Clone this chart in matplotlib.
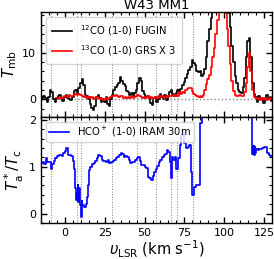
import numpy as np
import matplotlib
matplotlib.use("Agg")
import matplotlib.pyplot as plt
from matplotlib.ticker import MultipleLocator

# ---------------- data ----------------
co12_v0 = -15  # first channel, 1 km/s spacing
co12_t = [0.5, 0.0, 0.8, 0.2, -0.5, 0.5, 2.0, 1.5, 0.0, -0.5,
          0.3, 0.8, 1.0, 0.3, -0.3, 0.5, 1.0, 0.2, 0.0, -0.2,
          0.5, 1.8, 2.0, 1.2, 2.5, 3.5, 4.4, 3.0, 1.0, 0.8,
          0.0, -1.0, -1.8, -2.3, -1.5, 0.5, 1.0, 0.3, -0.5, 0.0,
          -0.5, 0.5, -1.0, -1.5, 0.0, 1.0, 2.0, 2.6, 3.0, 3.5,
          4.8, 4.0, 3.2, 2.8, 1.8, 1.5, 1.0, 1.4, 0.8, 1.3,
          2.0, 3.5, 4.6, 4.0, 1.8, 1.2, 0.5, 0.8, 0.2, -0.8,
          -1.3, 0.2, 0.5, -0.5, 0.0, 1.2, 0.5, 0.0, 0.9, -0.1,
          0.8, 1.6, 2.0, 1.2, 0.8, 1.4, 1.9, 1.5, 2.2, 3.0,
          3.6, 4.5, 5.5, 6.3, 7.0, 8.4, 7.8, 7.3, 6.0, 5.8,
          6.0, 4.9, 5.5, 6.5, 9.0, 12.5, 15.0, 17.5, 20.0, 23.0,
          25.0, 26.0, 27.0, 27.0, 26.0, 25.0, 23.0, 20.5, 18.5, 15.5,
          11.5, 8.0, 5.0, 3.5, 2.0, 1.5, 1.3, 2.6, 4.5, 9.0,
          12.5, 13.2, 9.0, 3.5, 1.2, 0.5, -0.5, 0.8, 0.0, 0.3,
          -0.8, 0.2, 1.0, 0.0, 0.5, -0.3]

co13_v0 = -5  # first channel, 1 km/s spacing (already x3)
co13_t = [0.2, 0.0, 0.3, 0.5, 0.2, 0.6, 0.8, 0.5, 0.9, 0.7,
          0.6, 1.0, 1.2, 0.9, 1.1, 1.0, 0.8, 0.5, 0.6, 0.3,
          0.5, 0.2, 0.4, 0.1, 0.3, 0.5, 0.2, 0.0, 0.2, 0.1,
          -0.1, 0.2, 0.0, 0.3, 0.5, 0.8, 0.6, 0.9, 0.7, 0.5,
          0.8, 0.6, 0.3, 0.5, 0.2, 0.4, 0.3, 0.6, 0.2, 0.5,
          0.8, 1.0, 0.7, 0.4, 0.2, 0.5, 0.3, 0.6, 0.2, 0.4,
          0.1, 0.3, 0.5, 0.2, 0.6, 0.4, 0.7, 0.5, 0.3, 0.6,
          0.4, 0.8, 0.6, 0.9, 0.7, 1.0, 0.8, 1.5, 1.2, 1.6,
          1.4, 1.9, 2.2, 2.5, 2.4, 1.8, 1.2, 1.0, 0.7, 0.5,
          0.6, 0.5, 1.0, 2.0, 3.2, 4.3, 5.3, 7.0, 9.0, 11.0,
          14.0, 17.0, 19.5, 21.0, 22.0, 21.0, 18.5, 15.0, 11.5, 7.5,
          4.0, 1.8, 1.0, 0.8, 0.6, 0.9, 0.7, 0.8, 1.5, 3.5,
          7.0, 9.9, 6.0, 2.0, 0.5, 0.2, 0.0, 0.3, -0.1, 0.2,
          0.0, 0.3, -0.2, 0.1, 0.2, 0.0]

hco_v = [-15.5, -14, -13, -12, -11, -10, -9, -8, -7, -6,
         -5, -4, -3, -2, -1, 0, 1, 2, 3, 4,
         5, 6, 6.5, 7, 7.5, 8, 8.5, 9, 9.5, 10,
         10.5, 11, 12, 13, 14, 14.5, 15, 16, 17, 18,
         19, 20, 21, 22, 23, 24, 25, 26, 27, 28,
         29, 30, 31, 32, 33, 34, 35, 36, 37, 38,
         39, 40, 41, 42, 43, 44, 45, 46, 47, 48,
         49, 50, 51, 52, 53, 54, 55, 56, 57, 58,
         59, 60, 61, 62, 63, 64, 65, 66, 66.5, 67,
         68, 69, 70, 71, 72, 73, 74, 75, 76, 77,
         78, 79, 79.5, 81, 82, 84, 84.5, 85, 86, 117.4,
         117.7, 118, 118.3, 118.6, 118.9, 119.2, 119.5, 120, 121, 122,
         123, 124, 125, 126, 127, 128, 129, 130.5]
hco_r = [1.07, 1.10, 1.05, 1.18, 1.10, 1.10, 0.95, 1.05, 1.12, 1.18,
         1.22, 1.24, 1.26, 1.22, 1.30, 1.33, 1.40, 1.26, 1.24, 1.22,
         1.12, 0.95, 0.55, 0.29, 0.45, 0.62, 0.25, 0.55, 0.18, -0.07,
         0.26, 0.18, 0.15, 0.20, 0.35, 0.60, 0.93, 1.00, 1.05, 1.08,
         1.12, 1.18, 1.25, 1.22, 1.14, 1.12, 1.13, 1.10, 1.14, 1.08,
         1.10, 1.12, 1.14, 1.18, 1.20, 1.25, 1.30, 1.27, 1.21, 1.22,
         1.20, 1.15, 1.07, 1.10, 1.10, 1.14, 1.18, 1.20, 1.12, 1.03,
         1.03, 1.00, 0.98, 0.78, 0.76, 0.71, 0.80, 0.89, 0.96, 1.02,
         1.10, 1.15, 1.21, 1.25, 1.28, 1.36, 1.32, 1.10, 0.75, 1.21,
         1.15, 1.20, 0.96, 1.18, 1.46, 1.68, 1.75, 1.50, 1.40, 1.42,
         1.46, 0.89, 0.40, 0.57, 0.60, 0.62, 1.18, 1.93, 2.5, 1.46,
         1.28, 1.45, 1.27, 1.44, 1.26, 1.42, 1.30, 1.38, 1.36, 1.38,
         1.37, 1.40, 1.43, 1.42, 1.30, 1.25, 1.22, 1.20]

vlines = [-9.0, 7.4, 10.3, 29.5, 45.4, 57.2, 66.9, 70.5, 80.6]

xticks = [0, 25, 50, 75, 100, 125]

# ---------------- plot ----------------
plt.rcParams['font.family'] = ['DejaVu Sans']
plt.rcParams['mathtext.fontset'] = 'dejavusans'

fig = plt.figure(figsize=(2.74, 2.59), dpi=100)
ax1 = fig.add_axes([0.1496, 0.5483, 0.8431, 0.4054])
ax2 = fig.add_axes([0.1496, 0.1390, 0.8431, 0.4093], sharex=ax1)

v12 = co12_v0 + np.arange(len(co12_t))
v13 = co13_v0 + np.arange(len(co13_t))

ax1.plot(v12, co12_t, color='black', lw=1.2, drawstyle='steps-mid',
         label=r'$^{12}$CO (1-0) FUGIN')
ax1.plot(v13, co13_t, color='red', lw=1.2, drawstyle='steps-mid',
         label=r'$^{13}$CO (1-0) GRS X 3')
ax1.axhline(0, color='gray', ls=':', lw=1.0, zorder=0)

ax2.plot(hco_v, hco_r, color='blue', lw=1.2, drawstyle='steps-post',
         label=r'HCO$^+$ (1-0) IRAM 30m')

for ax in (ax1, ax2):
    for xv in vlines:
        ax.axvline(xv, color='gray', ls=':', lw=0.7, zorder=0)
    ax.tick_params(which='both', direction='in', top=True, right=True,
                   labelsize=8)
    ax.tick_params(which='major', length=4, width=1)
    ax.tick_params(which='minor', length=2, width=0.8)
    for s in ax.spines.values():
        s.set_linewidth(1.0)

ax1.set_xlim(-15, 130)
ax1.set_ylim(-3.8, 18.7)
ax1.yaxis.set_major_locator(MultipleLocator(10))
ax1.yaxis.set_minor_locator(MultipleLocator(2))
ax1.xaxis.set_major_locator(MultipleLocator(25))
ax1.xaxis.set_minor_locator(MultipleLocator(5))
ax1.tick_params(labelbottom=False)
ax1.set_ylabel(r'$T_{\rm mb}$', fontsize=11, labelpad=2)
ax1.set_title('W43 MM1', fontsize=9.5, pad=2)
ax1.legend(loc='upper left', fontsize=7.2, frameon=True, handlelength=2.0,
           borderpad=0.6, labelspacing=0.5, fancybox=True)

ax2.set_ylim(-0.2, 2.06)
ax2.yaxis.set_major_locator(MultipleLocator(1))
ax2.yaxis.set_minor_locator(MultipleLocator(0.2))
ax2.set_xticks(xticks)
ax2.set_ylabel(r'$T_{\rm a}^*/T_{\rm c}$', fontsize=11, labelpad=2)
ax2.set_xlabel(r'$\upsilon_{\rm LSR}$ (km s$^{-1}$)', fontsize=10.5, labelpad=1)
ax2.legend(loc='upper left', fontsize=7.2, frameon=True, handlelength=2.0,
           borderpad=0.3, fancybox=True)

fig.savefig('out.png', dpi=100)
